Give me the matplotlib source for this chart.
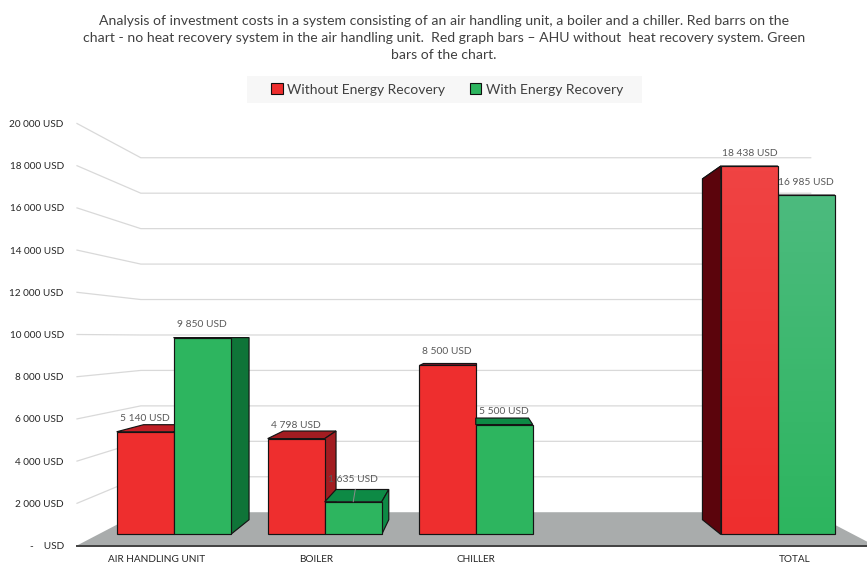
import numpy as np
import matplotlib
matplotlib.use("Agg")
import matplotlib.pyplot as plt
from matplotlib.patches import Polygon, Patch, Rectangle
from matplotlib.colors import to_rgb

categories = ["AIR HANDLING UNIT", "BOILER", "CHILLER", "", "TOTAL"]
without_recovery = [5140, 4798, 8500, None, 18438]
with_recovery = [9850, 1635, 5500, None, 16985]
y_ticks = list(range(0, 20001, 2000))
series_names = ["Without Energy Recovery", "With Energy Recovery"]
title_text = (
    "Analysis of investment costs in a system consisting of an air handling unit, a boiler and a chiller. Red barrs on the\n"
    "chart - no heat recovery system in the air handling unit.  Red graph bars \u2013 AHU without  heat recovery system. Green\n"
    "bars of the chart."
)

plt.rcParams["font.family"] = ["Lato", "DejaVu Sans"]

W, H = 867, 564
# Perspective set-up: everything recedes towards one vanishing point
VANISH_X = 2.0
VANISH_Y = 9858
BAR_FRONT, BAR_BACK, WALL = 0.053, 0.124, 0.16
BAR_W = 0.3775

RED, GREEN = "#EE2E2E", "#2DB55F"
# face shades per category: (top, side)
RED_SHADES = ["#C01F26", "#A21C21", "#7B1528", None, "#5B040C"]
GREEN_SHADES = ["#0F7438", "#0D8A45", "#0D8A45", None, "#0F7438"]
SIDE_GREEN = "#0F7438"


def proj(x, v, d):
    return (VANISH_X + (x - VANISH_X) * (1 - d), VANISH_Y + (v - VANISH_Y) * (1 - d))


def usd(v):
    return f"{v:,.0f}".replace(",", " ") + " USD"


fig = plt.figure(figsize=(W / 100, H / 100), dpi=100, facecolor="white")
ax = fig.add_axes([77 / W, (H - 545.5) / H, 797.5 / W, 422 / H])
ax.set_xlim(-0.5, 4.5)
ax.set_ylim(0, 20000)
ax.patch.set_visible(False)
for name in ("top", "left", "right"):
    ax.spines[name].set_visible(False)
ax.spines["bottom"].set_color("#404040")
ax.spines["bottom"].set_linewidth(1.4)
ax.spines["bottom"].set_zorder(4)

ax.set_yticks(y_ticks)
ax.set_yticklabels([usd(v) if v else "-    USD" for v in y_ticks], fontsize=7.2, color="#262626")
ax.tick_params(axis="y", length=0, pad=9.5)
ax.set_xticks(range(len(categories)))
ax.set_xticklabels(categories, fontsize=7.2, color="#262626")
ax.tick_params(axis="x", length=0, pad=7)

# Floor and walls
x0, x1 = ax.get_xlim()
ax.add_patch(Polygon([proj(x0, 0, 0), proj(x0, 0, WALL), proj(x1, 0, WALL), proj(x1, 0, 0)],
                     closed=True, fc="#A9ACAC", ec="none", zorder=2, clip_on=False))
for v in y_ticks[1:]:
    a, b, c = proj(x0, v, 0), proj(x0, v, WALL), proj(x1, v, WALL)
    ax.plot([a[0], b[0], c[0]], [a[1], b[1], c[1]], color="#D9D9D9", lw=0.9, zorder=1, clip_on=False)


def gradient_fill(poly, top_color, bottom_color, z):
    pts = np.array(poly.get_xy())
    t = np.linspace(0, 1, 64)[:, None]
    img = (1 - t) * np.array(to_rgb(top_color)) + t * np.array(to_rgb(bottom_color))
    im = ax.imshow(img[:, None, :], aspect="auto", zorder=z,
                   extent=(pts[:, 0].min(), pts[:, 0].max(), pts[:, 1].min(), pts[:, 1].max()))
    im.set_clip_path(poly)
    ax.set_xlim(x0, x1)
    ax.set_ylim(0, 20000)


def draw_bar(x_left, value, front, top_c, side_c, z, fade=None):
    x_right = x_left + BAR_W
    edge = dict(ec="#141414", lw=0.85, joinstyle="miter", clip_on=False)
    fl, fr = proj(x_left, value, BAR_FRONT), proj(x_right, value, BAR_FRONT)
    bl, br = proj(x_left, value, BAR_BACK), proj(x_right, value, BAR_BACK)
    ax.add_patch(Polygon([fl, fr, br, bl], closed=True, fc=top_c, zorder=z, **edge))
    if x_right < VANISH_X:
        ax.add_patch(Polygon([fr, br, proj(x_right, 0, BAR_BACK), proj(x_right, 0, BAR_FRONT)],
                             closed=True, fc=side_c, zorder=z + 0.1, **edge))
    if x_left > VANISH_X:
        ax.add_patch(Polygon([fl, bl, proj(x_left, 0, BAR_BACK), proj(x_left, 0, BAR_FRONT)],
                             closed=True, fc=side_c, zorder=z + 0.1, **edge))
    face = Polygon([proj(x_left, 0, BAR_FRONT), proj(x_right, 0, BAR_FRONT), fr, fl],
                   closed=True, fc=front, zorder=z + 0.2, **edge)
    ax.add_patch(face)
    if fade:
        face.set_facecolor("none")
        face.set_zorder(z + 0.3)
        gradient_fill(face, fade, front, z + 0.2)
    return proj(x_left + BAR_W / 2, value, BAR_FRONT)


tops = []
for i, (red_v, green_v) in enumerate(zip(without_recovery, with_recovery)):
    if red_v is None:
        continue
    # The bar nearer the vanishing point goes on top of its neighbour
    red_z, green_z = (5, 6) if i <= 2 else (6, 5)
    is_total = categories[i] == "TOTAL"
    tops.append((draw_bar(i - BAR_W, red_v, RED, RED_SHADES[i], RED_SHADES[i], red_z,
                          "#F04343" if is_total else None), red_v))
    side = GREEN_SHADES[i] if categories[i] == "BOILER" else SIDE_GREEN
    tops.append((draw_bar(i, green_v, GREEN, GREEN_SHADES[i], side, green_z,
                          "#4CBB7E" if is_total else None), green_v))

# Value labels; the smallest bar's label sits higher on a thin leader line
for (pt, v) in tops:
    leader = v == with_recovery[1]
    offset = 16 if leader else (9 if v > 16000 else 9.5)
    ax.annotate(usd(v), xy=pt, xytext=(0, offset), textcoords="offset points",
                ha="center", va="center", fontsize=7.4, color="#595959", zorder=9,
                annotation_clip=False)
    if leader:
        ax.annotate("", xy=pt, xytext=(1.5, 9), textcoords="offset points", zorder=9,
                    arrowprops=dict(arrowstyle="-", color="#8C8C8C", lw=0.7, shrinkA=0, shrinkB=0))

fig.text(444 / W, 1 - 38 / H, title_text, ha="center", va="center", fontsize=10.05,
         color="#404040", linespacing=1.52)

# Legend band behind a frameless legend
fig.add_artist(Rectangle((247 / W, 1 - 103 / H), 395 / W, 27 / H, transform=fig.transFigure,
                         fc="#F7F7F7", ec="none", zorder=0))
handles = [Patch(fc=RED, ec="#101010", lw=0.8), Patch(fc=GREEN, ec="#101010", lw=0.8)]
fig.legend(handles, series_names, ncols=2, loc="center", bbox_to_anchor=(447 / W, 1 - 89.5 / H),
           frameon=False, fontsize=10, labelcolor="#404040", handlelength=0.85, handleheight=0.85,
           handletextpad=0.3, columnspacing=1.75, borderpad=0.5, borderaxespad=0)

fig.savefig("out.png", dpi=100)
